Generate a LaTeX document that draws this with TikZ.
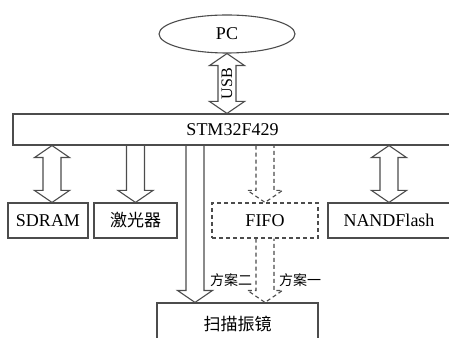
\documentclass[tikz,border=0pt]{standalone}
\usepackage{fontspec}
\setmainfont{Liberation Serif}
\newfontfamily\cjk{Noto Sans CJK SC}
\usetikzlibrary{calc,shapes.geometric}

% hollow block arrows, x taken from the end point
\newcommand{\fatdown}[3][]{%
  \draw[fat,#1] let \p1=(#2), \p2=(#3) in
    (\x2-9pt,\y1) -- (\x2-9pt,\y2+12pt) -- (\x2-17.5pt,\y2+12pt) -- (\x2,\y2)
    -- (\x2+17.5pt,\y2+12pt) -- (\x2+9pt,\y2+12pt) -- (\x2+9pt,\y1);}
\newcommand{\fatboth}[2]{%
  \draw[fat] let \p1=(#1), \p2=(#2) in
    (\x2,\y1) -- (\x2+17.5pt,\y1-12pt) -- (\x2+9pt,\y1-12pt) -- (\x2+9pt,\y2+12pt)
    -- (\x2+17.5pt,\y2+12pt) -- (\x2,\y2) -- (\x2-17.5pt,\y2+12pt) -- (\x2-9pt,\y2+12pt)
    -- (\x2-9pt,\y1-12pt) -- (\x2-17.5pt,\y1-12pt) -- cycle;}

\begin{document}
\begin{tikzpicture}[x=1pt,y=1pt,
  box/.style={draw=black!70,line width=1.1pt,inner sep=0pt,minimum height=35pt,font=\fontsize{18}{20}\selectfont},
  fat/.style={draw=black!70,line width=1.1pt,line join=miter},
  dashy/.style={dash pattern=on 4pt off 3pt},
  note/.style={font=\cjk\fontsize{14}{16}\selectfont,inner sep=0pt}]
\useasboundingbox (0,0) rectangle (449,337);
\clip (0,0) rectangle (449,337);
\node[draw=black!70,line width=1.1pt,ellipse,minimum width=136pt,minimum height=38pt,inner sep=0pt,font=\fontsize{18}{20}\selectfont] (pc) at (227,303) {PC};
\node[box,minimum width=439pt,minimum height=31pt] (stm) at (232.5,207.5) {STM32F429};
\node[box,minimum width=80pt] (sdram) at (48,116.5) {SDRAM};
\node[box,minimum width=83pt,font=\cjk\fontsize{17}{20}\selectfont] (laser) at (135.5,116.5) {激光器};
\node[box,dashy,minimum width=106pt] (fifo) at (265,116.5) {FIFO};
\node[box,minimum width=122pt] (nand) at (389,116.5) {NANDFlash};
\node[box,minimum width=161pt,minimum height=42pt,font=\cjk\fontsize{17}{20}\selectfont] (scan) at (237.5,13) {扫描振镜};
% connectors
\fatboth{pc.south}{stm.north -| pc.south}
\node[rotate=90,inner sep=0pt,font=\fontsize{16}{18}\selectfont] (usb) at ($(pc.south)!0.5!(stm.north -| pc.south)$) {USB};
\fatboth{stm.south}{$(sdram.north)+(4,0)$}
\fatdown{stm.south}{laser.north}
\fatdown{stm.south}{$(scan.north)+(-42.5,0)$}
\fatdown[dashy]{stm.south}{fifo.north}
\fatdown[dashy]{fifo.south}{scan.north -| fifo.north}
\fatboth{stm.south}{nand.north}
\node[note] (plan2) at (231,57) {方案二};
\node[note] (plan1) at (300,57) {方案一};
\end{tikzpicture}
\end{document}
